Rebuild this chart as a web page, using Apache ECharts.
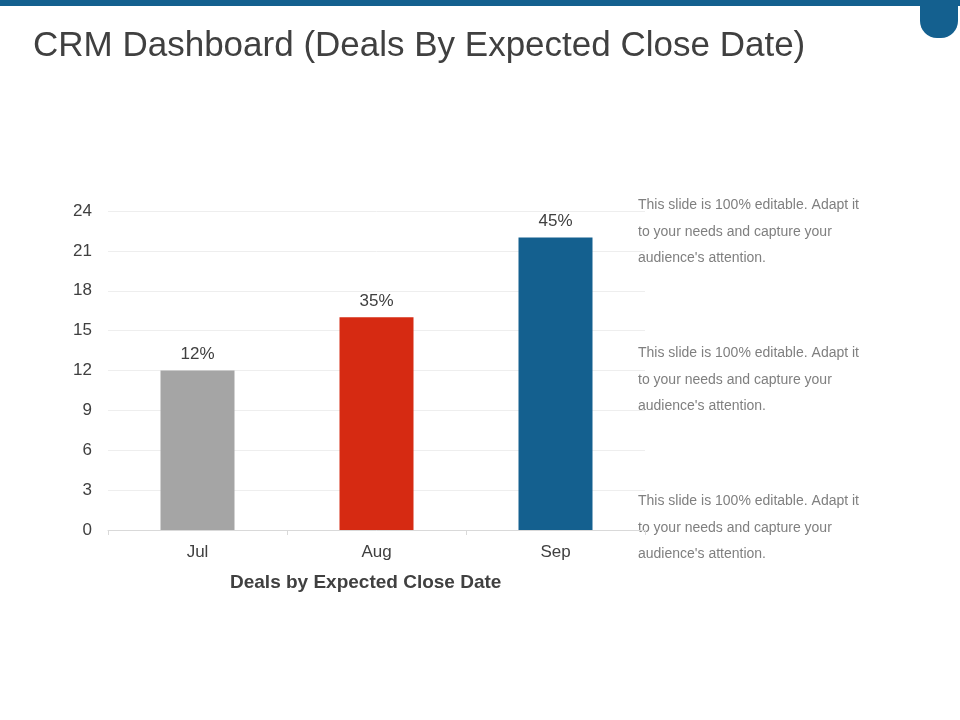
<!DOCTYPE html>
<html>
<head>
<meta charset="utf-8">
<script src="https://cdn.jsdelivr.net/npm/echarts@6/dist/echarts.min.js"></script>
<style>html,body{margin:0;padding:0;background:#fff}#chart{width:960px;height:720px}</style>
</head>
<body>
<div id="chart"></div>
<script>
// chart values
const months = ["Jul", "Aug", "Sep"];
const deals = [12, 16, 22];
const shares = ["12%", "35%", "45%"];
const barColors = ["#a5a5a5", "#d62a12", "#14608f"];
const noteText = "This slide is 100% editable. Adapt it\nto your needs and capture your\naudience's attention.";
const noteTops = [192, 340, 488];

const myChart = echarts.init(document.getElementById("chart"));

const notes = noteTops.map(function (t) {
  return {
    type: "text",
    left: 638,
    top: t,
    style: { text: noteText, fill: "#7f7f7f", font: "14px Arial, 'Liberation Sans'", lineHeight: 26.5 }
  };
});

const option = {
  animation: false,
  title: {
    text: "CRM Dashboard (Deals By Expected Close Date)",
    left: 28,
    top: 24,
    textStyle: { fontSize: 35, fontWeight: "normal", color: "#404040", fontFamily: "Arial, 'Liberation Sans'" }
  },
  graphic: [
    { type: "rect", shape: { x: 0, y: 0, width: 960, height: 6 }, style: { fill: "#14608f" } },
    { type: "rect", shape: { x: 920, y: 0, width: 38, height: 38, r: [0, 0, 17, 17] }, style: { fill: "#14608f" } },
    {
      type: "text", left: 230, top: 573,
      style: { text: "Deals by Expected Close Date", fill: "#404040", font: "bold 19px Arial, 'Liberation Sans'" }
    }
  ].concat(notes),
  grid: { left: 108, right: 315, top: 211, bottom: 190 },
  xAxis: {
    type: "category",
    data: months,
    axisLine: { lineStyle: { color: "#d9d9d9" } },
    axisTick: { show: true, lineStyle: { color: "#d9d9d9" } },
    axisLabel: { color: "#404040", fontSize: 17, margin: 14, fontFamily: "Arial, 'Liberation Sans'" }
  },
  yAxis: {
    type: "value",
    min: 0,
    max: 24,
    interval: 3,
    axisLine: { show: false },
    axisTick: { show: false },
    splitLine: { lineStyle: { color: "#eeeeee" } },
    axisLabel: { color: "#404040", fontSize: 17, margin: 16, fontFamily: "Arial, 'Liberation Sans'" }
  },
  series: [{
    type: "bar",
    barWidth: 74,
    data: deals.map(function (v, i) { return { value: v, itemStyle: { color: barColors[i] } }; }),
    label: {
      show: true,
      position: "top",
      distance: 8,
      color: "#404040",
      fontSize: 17,
      fontFamily: "Arial, 'Liberation Sans'",
      formatter: function (p) { return shares[p.dataIndex]; }
    }
  }]
};

myChart.setOption(option);
</script>
</body>
</html>
